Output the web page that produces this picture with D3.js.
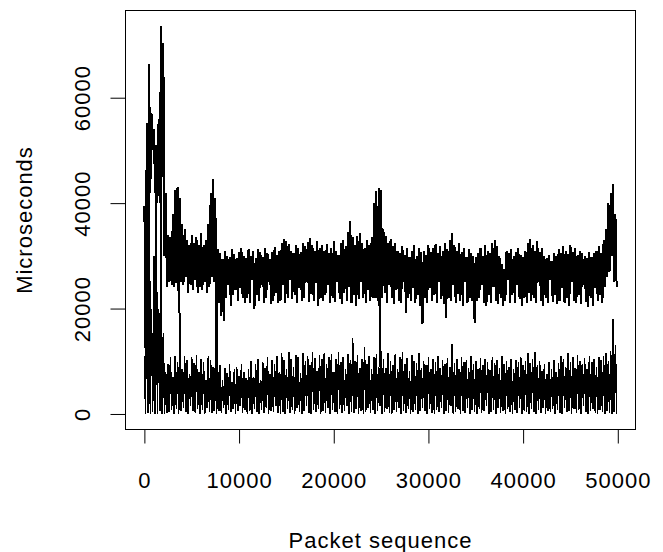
<!DOCTYPE html>
<html><head><meta charset="utf-8">
<script src="https://cdn.jsdelivr.net/npm/d3@7"></script>
<style>
body{margin:0;background:#fff}
text{font-family:"Liberation Sans",Arial,Helvetica,sans-serif;font-size:22px;letter-spacing:1px;fill:#000}
</style>
</head><body>
<svg id="chart" width="663" height="552"></svg>
<script>
// ---- data (microseconds), sampled every 250 packets ----
const xTicks = [0, 10000, 20000, 30000, 40000, 50000];
const yTicks = [0, 20000, 40000, 60000];
const sampleStep = 250;

// upper band: top and bottom of each stroke
const upperHi = [
 39500,55200,66400,57000,54000,51000,56000,73600,70400,42000,
 34000,33500,38000,42500,43000,41000,36000,
 35000,33000,32000,34000,32500,33500,32000,
 34400,32000,33000,36000,42000,44600,
 41000,
 31300,30500,29400,31000,30000,29800,31200,30400,29500,30800,31500,30000,
 29600,31300,30000,31000,29500,31200,30800,29800,31500,30500,29400,30800,31600,30200,
 31000,32500,33200,32800,32200,31000,30500,32000,31500,30800,32500,31800,32600,33400,32000,31000,32800,31500,
 32000,31000,32200,30500,31500,32800,31000,30200,32500,33000,31800,34500,36600,33500,32000,33800,34400,32500,31500,33000,32000,33500,
 40000,42300,42900,42500,35000,
 33800,32500,33200,31800,32500,31000,30500,31800,30200,31500,29800,31000,32000,30000,31500,30800,
 31000,30200,32000,30800,31500,32200,30500,31800,31000,32500,31200,33000,34300,32000,31000,32400,30800,31500,29800,31200,30500,29900,
 29800,30500,31500,30000,32000,31000,30500,32500,33000,31800,30000,28500,27500,31000,30500,31200,30000,30800,31500,30200,29800,31000,32500,33200,
 32000,31000,32800,30800,31500,30000,29500,30200,29000,30600,30000,31200,30500,31800,31000,30400,32000,30800,31500,30200,31000,30500,30000,29500,30800,29800,30500,31000,31800,30500,33000,35000,
 40000,42000,43600,38000
];
const upperLo = [
 11000,28000,42000,50000,42000,40000,40000,45000,30000,24000,
 25000,24500,24000,24900,19200,25000,24500,
 26000,23000,24500,23500,25500,23000,24000,
 23500,25000,23000,24000,26000,25000,
 1000,
 21000,18600,17700,22000,24500,20500,22500,23500,21500,24000,22000,21000,
 22000,21000,25500,20000,22500,21500,24500,21000,22000,25000,20800,21500,23000,21000,
 21500,24500,21000,22000,25500,21800,22500,21000,24000,21500,22000,25000,21200,22800,21500,24800,20500,22000,
 21500,22500,24500,21000,22000,21300,25000,21800,20800,23000,21500,24000,21000,22500,20500,21800,25000,22000,21000,23500,21500,22000,
 22000,21500,9000,22000,23000,
 21000,24500,22000,20800,23500,21500,21000,25000,19200,22000,21500,24000,21000,22500,20500,17100,
 22000,21000,24000,21500,22500,21000,25000,21800,20800,18200,22000,21500,24500,21000,22800,21500,20500,25000,21000,22000,21500,17300,
 21500,22000,24500,21000,20500,22500,21000,24000,21500,20800,22000,20500,21500,25500,21000,22500,21000,24500,21800,20500,22000,21000,23000,21500,
 22000,21000,25000,21500,20500,22000,21000,25500,21200,22500,20800,21500,24000,21000,22000,20500,25000,21500,21000,22500,20800,24500,21200,20300,22000,20500,24000,21500,22500,21000,24000,26000,
 27000,30000,25000,24000
];
// lower band: top and bottom of each stroke
const lowerHi = [
 11000,39500,55000,20000,30000,42000,20000,45000,15400,8000,
 9500,10800,7000,11000,9800,19200,8500,11000,10200,7500,10800,9600,11200,8000,10500,9800,6500,11000,10200,9000,
 9700,8000,9200,6500,8800,7800,9500,6000,8500,9000,7200,9400,8000,6800,
 8500,10000,7000,9500,10500,6500,9800,8800,10800,7500,10200,9500,11000,8000,
 11500,10200,8500,11800,10500,9000,11200,10800,7800,11500,10000,11000,9200,11800,10600,8200,11200,10400,11600,9500,10800,11300,8000,10500,11700,9800,10900,8600,11400,10200,
 14500,10000,11200,8800,10500,12700,9500,11000,8500,10800,11300,9000,12000,10400,8800,11600,10000,9200,11400,8600,10800,11800,9400,10600,8200,11200,10000,9600,11500,8800,
 10000,9200,10800,8600,10400,9800,11000,8800,10200,9400,10600,9000,13300,9600,10400,8500,10800,9800,10200,8800,11000,9400,10000,8600,10600,9200,10400,9800,8400,10800,9600,10200,8800,11000,9400,10000,9000,10500,8600,10300,9800,10800,9200,10000,11500,9600,
 10500,11800,9200,10000,8200,9500,7600,9800,8500,10200,8000,9600,11000,10500,9000,11500,9800,10800,8800,11200,10000,9400,10600,8600,11000,9800,10400,9000,10800,10200,11000,11500,10000,12000,18000,13000
];
const lowerLo = [
 0,200,0,300,0,0,500,0,0,200,
 300,800,0,1000,0,500,1200,300,0,1500,500,200,1000,0,800,0,1200,300,200,500,
 0,500,200,1200,0,800,300,1000,0,500,1500,200,800,0,
 500,0,1000,300,0,800,200,1200,0,500,300,1500,200,0,
 300,0,1000,200,800,0,1200,300,0,500,1500,200,0,800,300,1000,0,500,200,1200,0,800,300,0,1000,200,500,1500,0,300,
 200,1000,0,500,0,300,1200,200,800,0,500,1500,0,300,1000,200,0,800,300,1200,0,500,200,1000,0,300,800,0,500,1200,
 500,0,1000,200,0,800,300,1200,0,500,200,1500,0,300,1000,0,500,200,1200,0,800,300,0,1000,200,500,1500,0,300,800,0,1200,200,500,0,1000,300,0,800,200,1200,0,500,300,0,1000,
 300,0,800,200,1200,0,500,300,1000,0,800,200,0,1200,300,500,0,1000,200,800,0,1500,300,0,500,1000,200,0,800,300,0,500,200,0,300,0
];

// ---- layout ----
const svg = d3.select("#chart");
const L = 125.5, R = 635.5, T = 10.5, B = 429.5;

const packets = upperHi.map((d, i) => i * sampleStep);
function strokes(hi, lo) {
  const pts = [];
  hi.forEach((h, i) => {
    pts.push([packets[i], h]);
    pts.push([packets[i] + sampleStep / 2, lo[i]]);
  });
  return pts;
}
const upperPts = strokes(upperHi, upperLo);
const lowerPts = strokes(lowerHi, lowerLo);
const all = upperPts.concat(lowerPts);

// R-style 4% padding on data range
const xe = d3.extent(all, d => d[0]);
const ye = d3.extent(all, d => d[1]);
const xp = (xe[1] - xe[0]) * 0.04, yp = (ye[1] - ye[0]) * 0.04;
const x = d3.scaleLinear().domain([xe[0] - xp, xe[1] + xp]).range([L, R]);
const y = d3.scaleLinear().domain([ye[0] - yp, ye[1] + yp]).range([B, T]);

const line = d3.line().x(d => x(d[0])).y(d => y(d[1]));
[[upperPts, 2], [lowerPts, 1.5]].forEach(([p, w]) => {
  svg.append("path").attr("d", line(p))
    .attr("fill", "none").attr("stroke", "#000").attr("stroke-width", w)
    .attr("stroke-linejoin", "miter").attr("stroke-miterlimit", 1)
    .attr("shape-rendering", "crispEdges");
});

// box
svg.append("rect").attr("x", L).attr("y", T).attr("width", R - L).attr("height", B - T)
  .attr("fill", "none").attr("stroke", "#000").attr("stroke-width", 1);

// x axis
const xa = svg.append("g").attr("transform", `translate(0,${B})`)
  .call(d3.axisBottom(x).tickValues(xTicks).tickSize(14).tickPadding(0).tickFormat(d3.format("d")));
xa.select(".domain").attr("d", `M${x(xTicks[0])},0H${x(xTicks[xTicks.length-1])}`).attr("stroke", "#000");
xa.selectAll(".tick line").attr("stroke", "#000");
xa.selectAll(".tick text").attr("y", 51).attr("dy", "0.35em")
  .style("font-size", "22px").attr("font-family", null);

// y axis
const ya = svg.append("g").attr("transform", `translate(${L},0)`)
  .call(d3.axisLeft(y).tickValues(yTicks).tickSize(15).tickFormat(d3.format("d")));
ya.select(".domain").attr("d", `M0,${y(yTicks[0])}V${y(yTicks[yTicks.length-1])}`).attr("stroke", "#000");
ya.selectAll(".tick line").attr("stroke", "#000");
ya.selectAll(".tick text")
  .attr("x", null).attr("dy", null)
  .attr("text-anchor", "middle").attr("dominant-baseline", "central")
  .attr("transform", "translate(-43,0) rotate(-90)")
  .style("font-size", "22px").attr("font-family", null);

// axis titles
svg.append("text").attr("x", (L + R) / 2).attr("y", 548).attr("text-anchor", "middle")
  .text("Packet sequence");
svg.append("text").attr("transform", `translate(24,${(T + B) / 2}) rotate(-90)`)
  .attr("text-anchor", "middle").attr("dominant-baseline", "central")
  .text("Microseconds");
</script>
</body></html>
